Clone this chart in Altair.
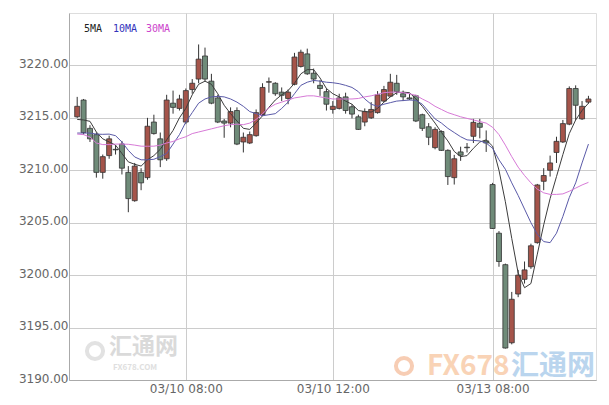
import altair as alt
import pandas as pd

# ---- candle data (index 0..80) ----
opens = [3215.1, 3216.7, 3214.0, 3213.4, 3209.8, 3211.4, 3212.0, 3212.5, 3209.8, 3207.1,
         3209.8, 3209.3, 3214.6, 3213.0, 3211.1, 3216.4, 3215.9, 3214.6, 3217.7, 3218.7,
         3220.9, 3218.5, 3216.9, 3214.7, 3214.5, 3215.7, 3212.7, 3212.6, 3213.3, 3215.3,
         3218.4, 3218.3, 3217.45, 3216.85, 3218.2, 3219.9, 3221.1, 3219.26, 3218.1, 3217.5,
         3215.8, 3215.9, 3217.0, 3216.06, 3215.1, 3214.6, 3215.0, 3215.5, 3216.6, 3217.07,
         3218.3, 3217.3, 3216.9, 3217.1, 3215.3, 3214.15, 3212.16, 3213.7, 3211.9, 3209.3,
         3211.75, 3212.2, 3213.24, 3214.48, 3212.8, 3208.64, 3204.0, 3201.0, 3193.55, 3198.2,
         3199.6, 3200.8, 3203.1, 3208.95, 3210.0, 3211.7, 3212.7, 3214.4, 3217.8, 3214.9,
         3216.5]
closes = [3216.1, 3213.6, 3213.0, 3209.8, 3211.3, 3213.0, 3211.95, 3210.2, 3207.3, 3210.4,
          3208.8, 3214.2, 3213.5, 3211.0, 3216.7, 3216.0, 3216.8, 3217.6, 3218.3, 3220.6,
          3218.7, 3216.4, 3214.6, 3214.5, 3215.6, 3212.5, 3213.15, 3213.4, 3215.5, 3217.9,
          3218.45, 3217.3, 3217.15, 3217.45, 3220.8, 3221.26, 3219.2, 3218.7, 3217.8, 3216.3,
          3216.1, 3216.9, 3215.7, 3215.36, 3213.9, 3215.6, 3215.8, 3217.2, 3217.7, 3218.4,
          3217.5, 3217.0, 3216.8, 3214.7, 3214.0, 3213.15, 3213.9, 3211.9, 3209.4, 3211.1,
          3211.44, 3212.15, 3214.57, 3214.1, 3212.6, 3204.45, 3201.3, 3193.05, 3197.7, 3200.0,
          3200.5, 3202.8, 3208.6, 3209.5, 3210.7, 3212.76, 3214.45, 3217.8, 3216.2, 3216.1,
          3216.8]
highs = [3217.0, 3216.8, 3214.3, 3213.6, 3211.5, 3213.3, 3212.4, 3212.8, 3210.4, 3210.7,
         3210.2, 3215.0, 3215.3, 3213.6, 3217.2, 3217.6, 3217.2, 3217.8, 3218.7, 3222.0,
         3221.7, 3219.2, 3217.2, 3214.9, 3216.0, 3216.0, 3213.6, 3213.7, 3215.8, 3218.3,
         3218.85, 3218.4, 3217.9, 3217.7, 3221.2, 3221.5, 3221.6, 3219.7, 3218.6, 3217.8,
         3216.6, 3217.3, 3217.4, 3216.3, 3215.3, 3215.9, 3216.5, 3217.55, 3218.05, 3219.2,
         3219.1, 3217.6, 3217.3, 3217.2, 3215.4, 3214.5, 3214.1, 3213.8, 3212.0, 3211.47,
         3212.25, 3212.6, 3214.9, 3214.9, 3213.8, 3208.8, 3204.2, 3201.1, 3198.4, 3200.5,
         3201.3, 3203.0, 3208.7, 3210.2, 3211.4, 3213.2, 3214.8, 3218.0, 3218.1, 3216.6,
         3217.1]
lows = [3215.0, 3213.4, 3212.7, 3209.3, 3209.2, 3211.1, 3211.5, 3209.6, 3206.0, 3207.0,
        3208.1, 3209.1, 3213.4, 3210.3, 3210.9, 3215.4, 3215.7, 3214.4, 3217.3, 3218.3,
        3218.5, 3216.3, 3214.5, 3213.1, 3214.1, 3212.4, 3211.7, 3212.5, 3213.2, 3215.2,
        3217.4, 3217.1, 3216.6, 3216.3, 3218.1, 3219.8, 3219.1, 3218.3, 3217.1, 3215.7,
        3215.4, 3215.8, 3215.4, 3214.95, 3213.85, 3214.2, 3214.9, 3215.4, 3216.5, 3217.0,
        3217.2, 3216.6, 3216.7, 3214.6, 3213.75, 3212.4, 3212.0, 3211.85, 3208.6, 3208.64,
        3210.9, 3211.7, 3212.6, 3213.05, 3211.75, 3204.4, 3200.8, 3193.0, 3193.4, 3197.9,
        3199.2, 3200.6, 3203.0, 3208.1, 3209.4, 3210.7, 3212.6, 3214.3, 3214.8, 3214.8,
        3216.35]

# ---- moving averages ----
ma5 = [3214.85, 3214.8, 3214.67, 3213.65, 3213.0, 3212.7, 3212.4, 3211.6, 3210.8, 3210.57,
       3210.4, 3211.0, 3211.4, 3212.0, 3212.9, 3213.8, 3215.0, 3215.9, 3217.2, 3218.2,
       3218.5, 3218.2, 3217.3, 3216.2, 3215.4, 3214.7, 3214.0, 3213.9, 3214.5, 3215.2,
       3216.0, 3216.7, 3217.2, 3217.6, 3218.3, 3219.2, 3219.6, 3219.6, 3218.8, 3217.8,
       3217.3, 3217.0, 3216.6, 3216.3, 3215.7, 3215.6, 3215.55, 3215.9, 3216.5, 3217.0,
       3217.4, 3217.45, 3217.4, 3216.8, 3216.1, 3215.3, 3214.5, 3213.6, 3212.8, 3211.8,
       3211.3, 3211.4, 3212.1, 3212.7, 3212.9, 3212.3, 3210.0, 3207.0, 3203.5, 3200.2,
       3198.8, 3199.2, 3202.0, 3204.8, 3207.3, 3209.4, 3211.5, 3213.5, 3214.8, 3215.7,
       3216.4]
ma10 = [3213.55, 3213.55, 3213.55, 3213.45, 3213.43, 3213.45, 3213.3, 3212.7, 3211.9, 3211.27,
        3211.0, 3211.0, 3211.05, 3211.3, 3211.6, 3212.5, 3213.4, 3214.6, 3215.5, 3216.4,
        3216.8, 3217.0, 3217.05, 3217.0, 3216.8, 3216.5, 3216.1, 3215.6, 3215.4, 3215.2,
        3215.3, 3215.4, 3215.9, 3216.5, 3217.3, 3218.1, 3218.4, 3218.57, 3218.5, 3218.4,
        3218.35, 3218.26, 3218.1, 3217.9, 3217.5, 3216.8, 3216.3, 3216.1, 3216.3, 3216.45,
        3216.6, 3216.65, 3216.7, 3216.67, 3216.3, 3215.6, 3214.9, 3214.5, 3214.0, 3213.6,
        3213.2, 3212.9, 3212.85, 3212.8, 3212.6, 3212.1, 3211.0, 3210.1, 3208.8, 3207.6,
        3206.3, 3205.0, 3203.9, 3203.2, 3203.1, 3204.0, 3205.6, 3207.4, 3208.8, 3210.7,
        3212.5]
ma30 = [3213.45, 3213.4, 3213.17, 3212.6, 3212.45, 3212.45, 3212.5, 3212.5, 3212.48, 3212.4,
        3212.3, 3212.29, 3212.3, 3212.4, 3212.6, 3212.75, 3213.0, 3213.2, 3213.5, 3213.65,
        3213.8, 3213.95, 3214.1, 3214.25, 3214.35, 3214.4, 3214.35, 3214.5, 3214.85, 3215.4,
        3215.95, 3216.3, 3216.5, 3216.7, 3216.9, 3217.0, 3217.1, 3217.1, 3217.0, 3216.9,
        3216.8, 3216.8, 3216.8, 3216.8, 3216.85, 3217.0, 3217.1, 3217.25, 3217.4, 3217.45,
        3217.46, 3217.4, 3217.3, 3217.15, 3216.8, 3216.5, 3216.1, 3215.8, 3215.5, 3215.3,
        3215.1, 3214.95, 3214.8, 3214.65, 3214.5, 3214.1, 3213.4, 3212.4, 3211.3, 3210.3,
        3209.5, 3208.8, 3208.2, 3207.85, 3207.7, 3207.7, 3207.75, 3208.0, 3208.3, 3208.6,
        3208.85]

tick_pos = [17, 40, 65]
tick_labels = ["03/10 08:00", "03/10 12:00", "03/13 08:00"]
y_ticks = [3190, 3195, 3200, 3205, 3210, 3215, 3220]
series_names = ["5MA", "10MA", "30MA"]
line_colors = ["#3c3c3c", "#5a5aa8", "#d77ad7"]
legend_colors = ["#222222", "#3333bb", "#cc44cc"]

n = len(opens)
idx = list(range(n))
candles = pd.DataFrame({"i": idx, "open": opens, "close": closes, "high": highs, "low": lows})
candles["dir"] = ["up" if c >= o else "down" for o, c in zip(opens, closes)]

ma = pd.DataFrame({
    "i": idx * 3,
    "v": ma5 + ma10 + ma30,
    "s": [series_names[0]] * n + [series_names[1]] * n + [series_names[2]] * n,
})

label_expr = " : ".join(
    f"datum.value == {p} ? '{t}'" for p, t in zip(tick_pos, tick_labels)
) + " : ''"

xscale = alt.Scale(domain=[-0.5, 80.4], nice=False, zero=False)
yscale = alt.Scale(domain=[3190, 3225], nice=False, zero=False)

xaxis = alt.Axis(values=tick_pos, labelExpr=label_expr, grid=True, gridColor="#cccccc",
                 ticks=False, domainColor="#aaaaaa", labelColor="#666666",
                 labelFont="DejaVu Sans", labelFontSize=12, labelPadding=3, title=None,
                 labelAngle=0)
yaxis = alt.Axis(values=y_ticks, format=".2f", grid=True, gridColor="#cccccc",
                 ticks=False, domainColor="#aaaaaa", labelColor="#666666",
                 labelFont="DejaVu Sans", labelFontSize=12, labelPadding=1,
                 labelBaseline="alphabetic", labelOffset=2, title=None)

X = alt.X("i:Q", scale=xscale, axis=xaxis)

wicks = alt.Chart(candles).mark_rule(color="#333333", strokeWidth=1).encode(
    x=X,
    y=alt.Y("low:Q", scale=yscale, axis=yaxis),
    y2="high:Q",
)

bodies = alt.Chart(candles).mark_bar(size=5, stroke="#333333", strokeWidth=0.8).encode(
    x=X,
    y=alt.Y("open:Q", scale=yscale, axis=yaxis),
    y2="close:Q",
    color=alt.Color("dir:N", scale=alt.Scale(domain=["up", "down"], range=["#a5544a", "#6f8b79"]),
                    legend=None),
)

lines = alt.Chart(ma).mark_line(strokeWidth=1).encode(
    x=X,
    y=alt.Y("v:Q", scale=yscale, axis=yaxis),
    stroke=alt.Stroke("s:N", scale=alt.Scale(domain=series_names, range=line_colors), legend=None),
    detail="s:N",
)

legend_df = pd.DataFrame({"t": series_names, "px": [15, 44, 77], "c": legend_colors})
legend = alt.Chart(legend_df).mark_text(align="left", baseline="middle", font="DejaVu Sans Mono",
                                        fontSize=10).encode(
    x=alt.X("px:Q", scale=None),
    y=alt.value(16),
    text="t:N",
    fill=alt.Fill("c:N", scale=None),
)

# watermark (logo texts and swirl rings)
wm_df = pd.DataFrame({
    "t": ["汇通网", "FX678.COM", "FX678", "汇通网"],
    "px": [40, 44, 358, 442],
    "py": [334, 355, 354, 354],
    "c": ["#d2d2d2", "#d8d8d8", "#f8c9a4", "#a9cbea"],
    "fs": [23, 8, 28, 28],
})
watermark = alt.Chart(wm_df).mark_text(align="left", baseline="middle", font="Noto Sans CJK SC",
                                       fontWeight="bold", opacity=0.8).encode(
    x=alt.X("px:Q", scale=None),
    y=alt.Y("py:Q", scale=None),
    text="t:N",
    fill=alt.Fill("c:N", scale=None),
    size=alt.Size("fs:Q", scale=None),
)

ring_df = pd.DataFrame({"px": [26, 335], "py": [338, 353], "c": ["#d6d6d6", "#f5b995"]})
rings = alt.Chart(ring_df).mark_point(shape="circle", filled=False, size=260, strokeWidth=4,
                                      opacity=0.7).encode(
    x=alt.X("px:Q", scale=None),
    y=alt.Y("py:Q", scale=None),
    stroke=alt.Stroke("c:N", scale=None),
)

chart = alt.layer(wicks, rings, watermark, bodies, lines, legend).resolve_scale(
    color="independent", fill="independent", stroke="independent"
).properties(
    width=527, height=367,
    padding={"left": 61, "top": 5, "right": 5, "bottom": 17},
    autosize="none",
).configure_view(stroke="#aaaaaa", strokeWidth=1).configure(background="white")

chart.save("out.html", embed_options={"renderer": "svg", "actions": False})
